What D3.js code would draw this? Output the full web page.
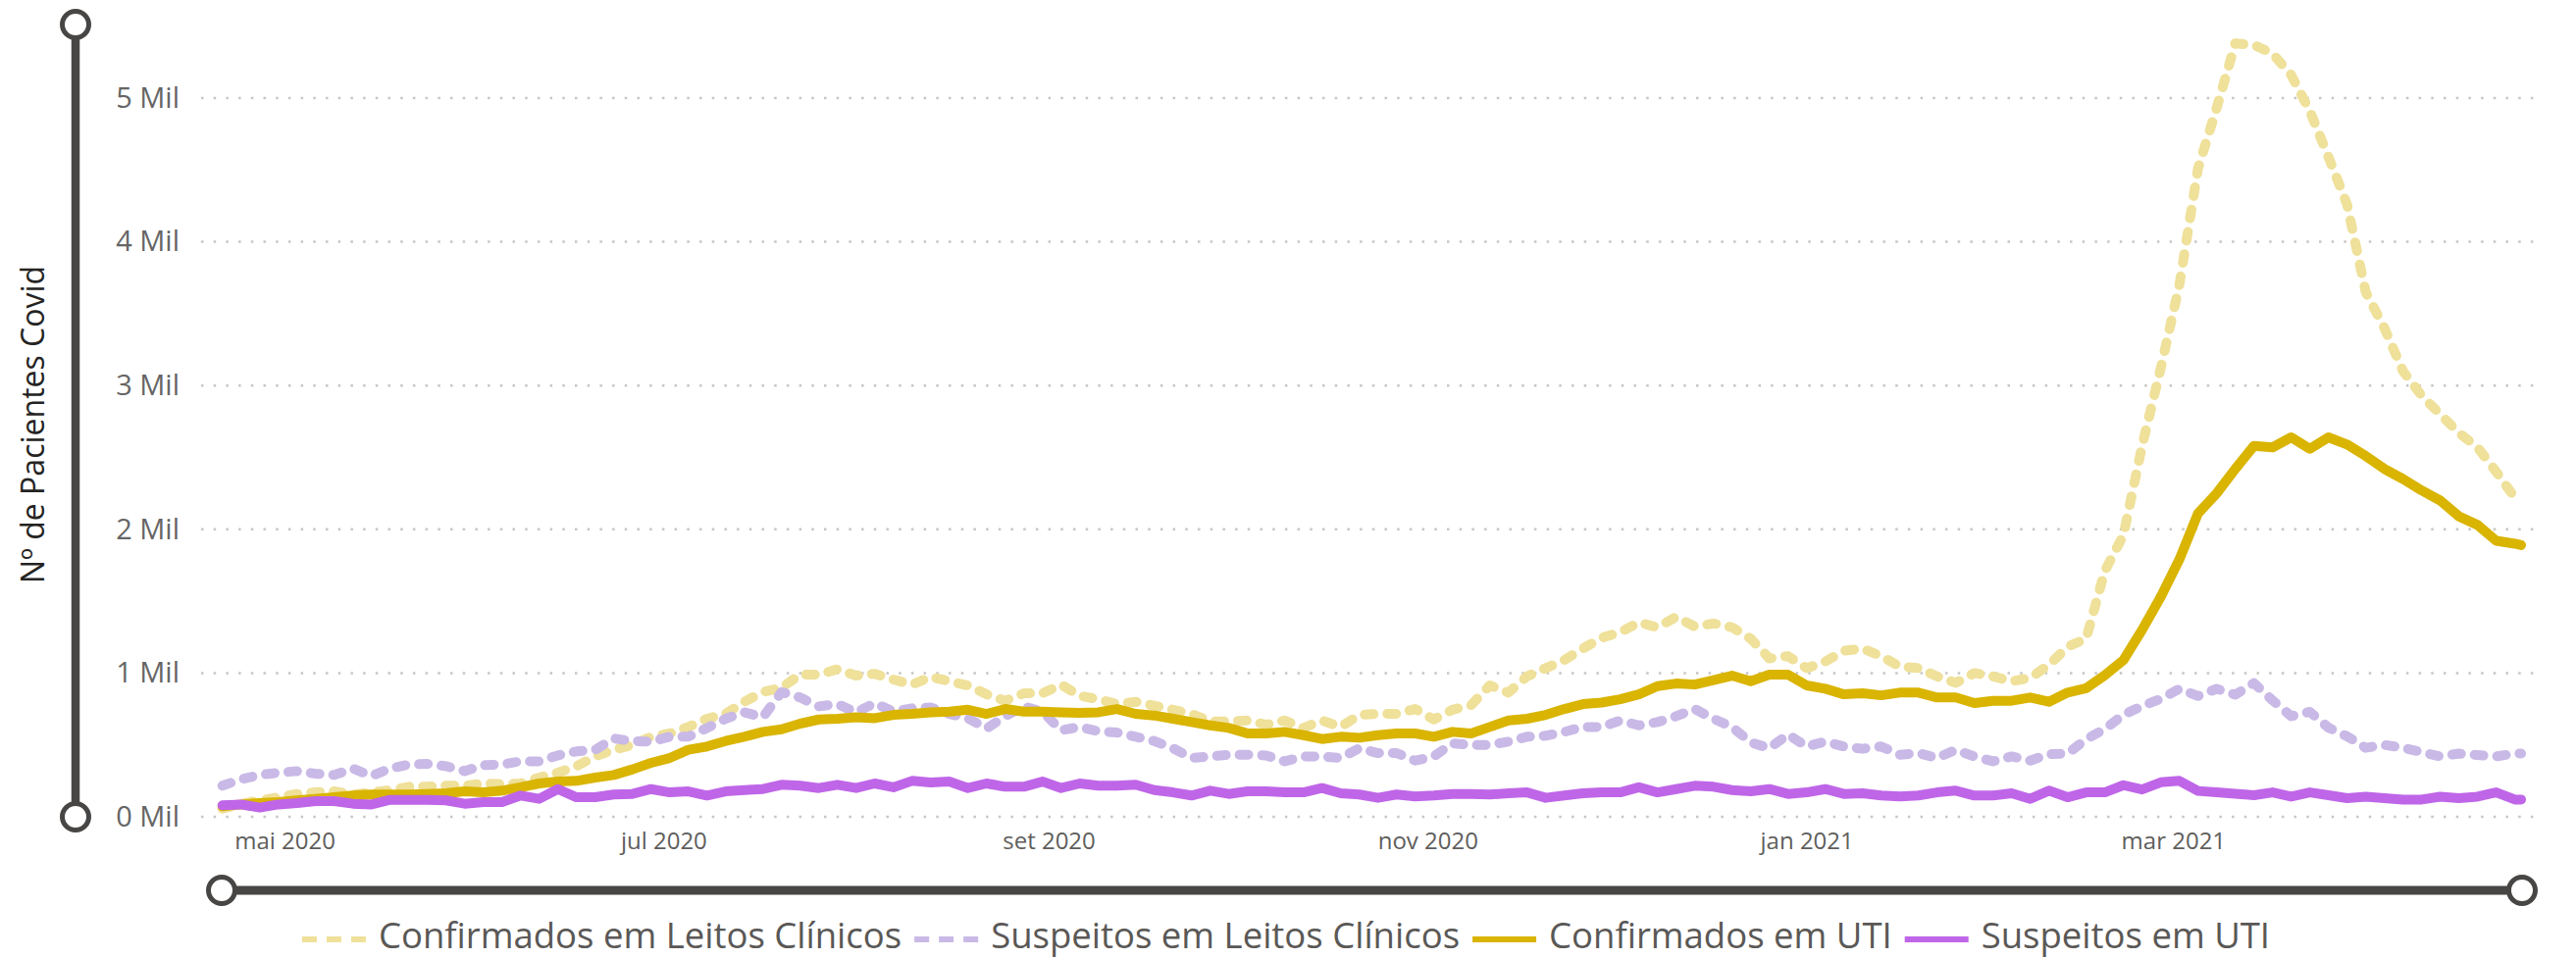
<!DOCTYPE html>
<html>
<head>
<meta charset="utf-8">
<script src="https://cdn.jsdelivr.net/npm/d3@7"></script>
<style>
  body { margin: 0; background: #fff; }
  svg { display: block; font-family: "Segoe UI", "Open Sans", sans-serif; }
</style>
</head>
<body>
<svg width="2626" height="977"></svg>
<script>
// dates: every 3 days from 21 Apr 2020, plus the last day (26 Apr 2021)
const startDate = new Date(Date.UTC(2020, 3, 21));
const endDate = new Date(Date.UTC(2021, 3, 26));
const dates = d3.utcDay.range(startDate, endDate, 3).concat([endDate]);

// series values (patients)
const confLeitos = [
  57, 91, 114, 136, 159, 170, 177, 155, 170, 186, 209, 209, 216, 216, 232, 227, 232, 273, 307, 352, 420, 466, 500, 557,
  580, 625, 682, 716, 800, 868, 898, 989, 989, 1027, 982, 995, 955, 920, 973, 943, 914, 852, 807, 859, 859, 920, 841, 818, 784, 800,
  773, 745, 716, 664, 664, 670, 641, 670, 618, 670, 625, 709, 716, 716, 750, 677, 745, 777, 914, 864, 977, 1034, 1091, 1170, 1245,
  1284, 1352, 1318, 1391, 1323, 1345, 1318, 1239, 1102, 1118, 1034, 1080, 1155, 1170, 1118, 1045, 1034, 977, 932, 1000, 977, 943, 966, 1057, 1182,
  1240, 1710, 1960, 2580, 3120, 3700, 4510, 4930, 5380, 5370, 5310, 5160, 4910, 4590, 4260, 3650, 3400, 3100, 2930, 2800, 2670, 2570, 2400, 2220, 2200
];
const suspLeitos = [
  216, 261, 291, 307, 318, 300, 291, 336, 284, 336, 364, 368, 352, 318, 359, 364, 386, 386, 427, 455, 466, 545, 527, 523,
  557, 557, 618, 682, 727, 693, 868, 830, 768, 784, 727, 791, 732, 755, 761, 716, 686, 614, 700, 768, 732, 602, 625, 595, 586, 557,
  527, 477, 409, 420, 432, 432, 427, 386, 420, 420, 409, 477, 443, 443, 391, 420, 511, 500, 500, 523, 557, 564, 591, 625, 625,
  670, 636, 659, 700, 750, 682, 625, 518, 477, 573, 489, 523, 489, 473, 489, 432, 443, 409, 466, 420, 386, 420, 391, 436, 440,
  540, 610, 710, 770, 820, 890, 840, 890, 850, 930, 810, 700, 730, 620, 560, 480, 500, 480, 450, 420, 440, 430, 420, 440, 440
];
const confUTI = [
  73, 86, 95, 102, 114, 125, 136, 148, 155, 155, 155, 159, 164, 177, 170, 182, 205, 232, 245, 250, 273, 291, 330, 375,
  409, 466, 489, 527, 557, 591, 609, 648, 677, 682, 693, 686, 709, 716, 727, 732, 745, 716, 750, 732, 732, 727, 723, 727, 750, 716,
  705, 682, 659, 636, 618, 580, 580, 591, 568, 541, 557, 550, 568, 580, 580, 557, 591, 580, 625, 670, 682, 709, 750, 784, 795,
  818, 852, 909, 927, 920, 950, 982, 943, 989, 989, 914, 891, 852, 859, 845, 864, 864, 830, 830, 791, 807, 807, 830, 800, 864,
  895, 985, 1090, 1300, 1530, 1790, 2110, 2250, 2420, 2580, 2570, 2640, 2560, 2640, 2590, 2510, 2420, 2350, 2270, 2200, 2090, 2030, 1920, 1900, 1890
];
const suspUTI = [
  80, 86, 64, 86, 95, 109, 109, 91, 86, 118, 118, 118, 114, 91, 102, 102, 148, 125, 193, 136, 136, 155, 159, 193,
  170, 177, 148, 177, 186, 193, 223, 216, 200, 223, 200, 232, 205, 250, 239, 245, 200, 232, 209, 209, 245, 200, 232, 216, 216, 223,
  186, 170, 148, 182, 159, 177, 177, 170, 170, 200, 164, 155, 132, 155, 141, 148, 159, 159, 155, 164, 170, 132, 148, 164, 170,
  170, 205, 170, 193, 216, 209, 186, 177, 193, 159, 170, 193, 159, 164, 148, 141, 148, 170, 182, 148, 148, 164, 125, 182, 136,
  170, 170, 220, 190, 240, 250, 180, 170, 160, 150, 170, 140, 170, 150, 130, 140, 130, 120, 120, 140, 130, 140, 170, 120, 120
];

const seriesNames = ['Confirmados em Leitos Clínicos', 'Suspeitos em Leitos Clínicos', 'Confirmados em UTI', 'Suspeitos em UTI'];
const seriesColors = ['#EFE09A', '#C9B9E6', '#D9B400', '#BF66E8'];
const seriesDashed = [true, true, false, false];
const seriesValues = [confLeitos, suspLeitos, confUTI, suspUTI];

// axis ticks
const xTickDates = [new Date(Date.UTC(2020, 4, 1)), new Date(Date.UTC(2020, 6, 1)), new Date(Date.UTC(2020, 8, 1)),
                    new Date(Date.UTC(2020, 10, 1)), new Date(Date.UTC(2021, 0, 1)), new Date(Date.UTC(2021, 2, 1))];
const xTickLabels = ['mai 2020', 'jul 2020', 'set 2020', 'nov 2020', 'jan 2021', 'mar 2021'];
const yTicks = [0, 1000, 2000, 3000, 4000, 5000];

const svg = d3.select('svg');

svg.append('rect').attr('width', 2626).attr('height', 977).attr('fill', '#fff');

//scales
const xScale = d3.scaleUtc()
    .domain([startDate, endDate])
    .range([226.7, 2570]);

const yScale = d3.scaleLinear()
    .domain([0, 5000])
    .range([833, 100]);

//dotted gridlines
svg.append('g')
    .selectAll('line')
    .data(yTicks)
    .enter()
    .append('line')
    .attr('x1', 205)
    .attr('x2', 2588)
    .attr('y1', d => yScale(d))
    .attr('y2', d => yScale(d))
    .style('stroke', '#C8C6C4')
    .style('stroke-width', 2.5)
    .style('stroke-dasharray', '2.5,10.2');

//y axis
const yAxis = d3.axisLeft(yScale)
    .tickValues(yTicks)
    .tickSize(0)
    .tickPadding(22)
    .tickFormat(d => (d / 1000) + ' Mil');

const yG = svg.append('g')
    .attr('transform', 'translate(205,0)')
    .call(yAxis);
yG.select('.domain').remove();
yG.selectAll('text')
    .style('font-family', '"Segoe UI", "Open Sans", sans-serif')
    .style('font-size', '29px')
    .style('fill', '#666666');

//x axis
const xAxis = d3.axisBottom(xScale)
    .tickValues(xTickDates)
    .tickSize(0)
    .tickPadding(0)
    .tickFormat((d, i) => xTickLabels[i]);

const xG = svg.append('g')
    .attr('transform', 'translate(0,842)')
    .call(xAxis);
xG.select('.domain').remove();
xG.selectAll('text')
    .attr('dy', null)
    .attr('y', 24)
    .style('font-family', '"Segoe UI", "Open Sans", sans-serif')
    .style('font-size', '24px')
    .style('fill', '#605E5C');

//y axis title
svg.append('text')
    .attr('transform', 'translate(45,433) rotate(-90)')
    .attr('text-anchor', 'middle')
    .style('font-size', '32px')
    .style('fill', '#252423')
    .text('Nº de Pacientes Covid');

//lines
const line = d3.line()
    .x((d, i) => xScale(dates[i]))
    .y(d => yScale(d));

seriesValues.forEach((vals, k) => {
    svg.append('path')
        .datum(vals)
        .attr('d', line)
        .style('fill', 'none')
        .style('stroke', seriesColors[k])
        .style('stroke-width', 10)
        .style('stroke-linejoin', 'round')
        .style('stroke-linecap', 'round')
        .style('stroke-dasharray', seriesDashed[k] ? '9,14' : null);
});

//sliders
const sliderColor = '#484644';
svg.append('line')
    .attr('x1', 77).attr('x2', 77)
    .attr('y1', 25).attr('y2', 833)
    .style('stroke', sliderColor)
    .style('stroke-width', 8.5);
svg.append('line')
    .attr('x1', 226).attr('x2', 2571)
    .attr('y1', 908).attr('y2', 908)
    .style('stroke', sliderColor)
    .style('stroke-width', 9);
[[77, 25], [77, 833], [226, 908], [2571, 908]].forEach(p => {
    svg.append('circle')
        .attr('cx', p[0])
        .attr('cy', p[1])
        .attr('r', 13.5)
        .style('fill', '#fff')
        .style('stroke', sliderColor)
        .style('stroke-width', 5);
});

//legend
const legend = svg.append('g');
const symW = 65, gapIn = 13, gapOut = 13;
let cursor = 0;
seriesNames.forEach((name, k) => {
    const g = legend.append('g');
    g.append('line')
        .attr('x1', 0).attr('x2', symW)
        .attr('y1', 958).attr('y2', 958)
        .style('stroke', seriesColors[k])
        .style('stroke-width', 6)
        .style('stroke-dasharray', seriesDashed[k] ? '15,10' : null);
    const t = g.append('text')
        .attr('x', symW + gapIn)
        .attr('y', 967)
        .style('font-size', '36.5px')
        .style('fill', '#5A5856')
        .text(name);
    const w = t.node().getComputedTextLength();
    g.attr('transform', 'translate(' + cursor + ',0)');
    cursor += symW + gapIn + w + gapOut;
});
const total = cursor - gapOut;
legend.attr('transform', 'translate(' + (1311 - total / 2) + ',0)');
</script>
</body>
</html>
